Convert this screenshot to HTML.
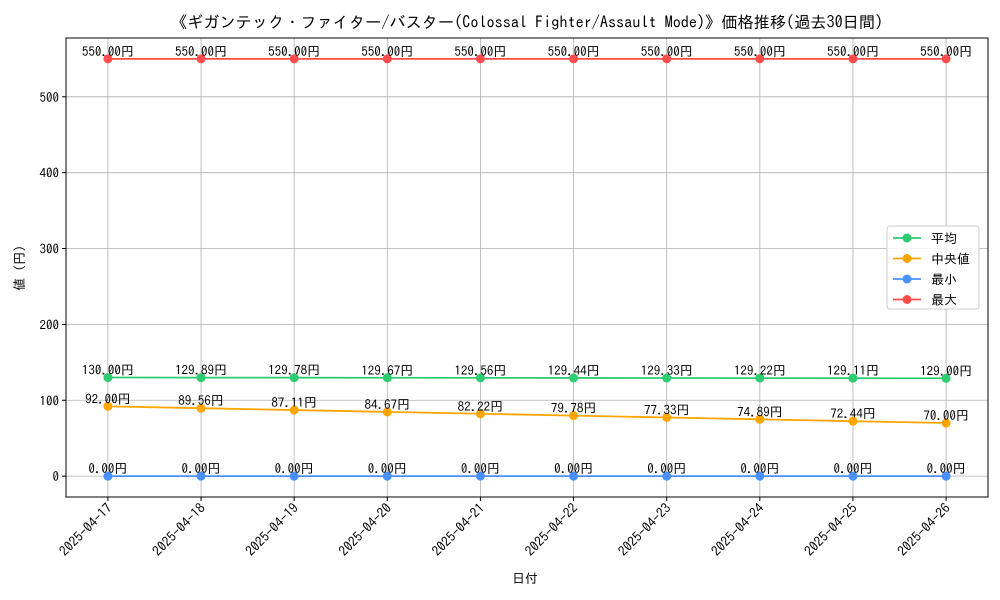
<!DOCTYPE html>
<html><head><meta charset="utf-8"><style>
body{margin:0;background:#fff}
svg{display:block;font-family:"IPAGothic","Liberation Sans","Noto Sans CJK JP",sans-serif}
</style></head><body>
<svg id="c" width="1000" height="600">
<text x="527" y="28" text-anchor="middle" font-size="16.2">《ギガンテック・ファイター/バスター(Colossal Fighter/Assault Mode)》価格推移(過去30日間)</text>
<text x="525" y="583" text-anchor="middle" font-size="13">日付</text>
<text x="24" y="268" text-anchor="middle" font-size="13" transform="rotate(-90 24 268)">値 (円)</text>
<g id="grid"></g><g id="series"></g>
<rect x="66" y="38" width="922" height="459" fill="none" stroke="#000" stroke-width="1"/>
<g id="axes"></g>
<g>
<rect x="887" y="226" width="92" height="83" rx="3" fill="#fff" fill-opacity="0.85" stroke="#ccc"/>
<g id="legend"></g>
</g>
</svg>
<script>
const dates=["2025-04-17","2025-04-18","2025-04-19","2025-04-20","2025-04-21","2025-04-22","2025-04-23","2025-04-24","2025-04-25","2025-04-26"];
const avgVals=[130.00,129.89,129.78,129.67,129.56,129.44,129.33,129.22,129.11,129.00];
const medVals=[92.00,89.56,87.11,84.67,82.22,79.78,77.33,74.89,72.44,70.00];
const minVals=[0,0,0,0,0,0,0,0,0,0];
const maxVals=[550,550,550,550,550,550,550,550,550,550];
const yTicks=[0,100,200,300,400,500];
const seriesNames=["平均","中央値","最小","最大"];
const NS="http://www.w3.org/2000/svg";
const L=66,R=988,T=38,B=497;
const yMin=-27.5,yMax=577.5;
const x=i=>L+(i+0.45)*(R-L)/(dates.length-1+0.9);
const y=v=>B-(v-yMin)*(B-T)/(yMax-yMin);
function mk(tag,attrs,parent){const e=document.createElementNS(NS,tag);for(const k in attrs)e.setAttribute(k,attrs[k]);parent.appendChild(e);return e;}
const grid=document.getElementById('grid'),axes=document.getElementById('axes'),ser=document.getElementById('series'),leg=document.getElementById('legend');
dates.forEach((d,i)=>{
 const g=mk('line',{x1:x(i),x2:x(i),y1:T,y2:B,stroke:'#b0b0b0','stroke-width':0.8},grid);
 
 
 const t=mk('line',{x1:x(i),x2:x(i),y1:B,y2:B+4,stroke:'#000'},axes);
 
 
 const tx=mk('text',{x:x(i)+5,y:B+12,'text-anchor':'end','font-size':13.5,transform:`rotate(-45 ${x(i)+5} ${B+12})`},axes);
 tx.textContent=d;
 
 
});
yTicks.forEach(v=>{
 const g=mk('line',{x1:L,x2:R,y1:y(v),y2:y(v),stroke:'#b0b0b0','stroke-width':0.8},grid);
 
 
 const t=mk('line',{x1:L-4,x2:L,y1:y(v),y2:y(v),stroke:'#000'},axes);
 
 
 const tx=mk('text',{x:L-7,y:y(v)+5,'text-anchor':'end','font-size':13},axes);
 tx.textContent=v;
 
 
});
const all=[[avgVals,'#2ecc71','average'],[medVals,'#ffa500','median'],[minVals,'#4a90ff','minimum'],[maxVals,'#ff4c4c','maximum']];
all.forEach(([vals,col,nm],si)=>{
 const g=mk('g',{},ser);
 
 
 const p=mk('polyline',{points:vals.map((v,i)=>x(i)+','+y(v)).join(' '),fill:'none',stroke:col,'stroke-width':1.8},g);
 
 
 vals.forEach((v,i)=>{
  const c=mk('circle',{cx:x(i),cy:y(v),r:4.5,fill:col},g);
  
  
  const t=mk('text',{x:x(i),y:y(v)-3,'text-anchor':'middle','font-size':13},g);
  t.textContent=v.toFixed(2)+'円';
  
  
 });
 const ly=238+si*20.5;
 const le=mk('g',{},leg);
 
 
 mk('line',{x1:893,x2:921,y1:ly,y2:ly,stroke:col,'stroke-width':1.8},le);
 mk('circle',{cx:907,cy:ly,r:4.5,fill:col},le);
 const lt=mk('text',{x:931,y:ly+5,'font-size':13},le);
 lt.textContent=seriesNames[si];
});
</script>
</body></html>
